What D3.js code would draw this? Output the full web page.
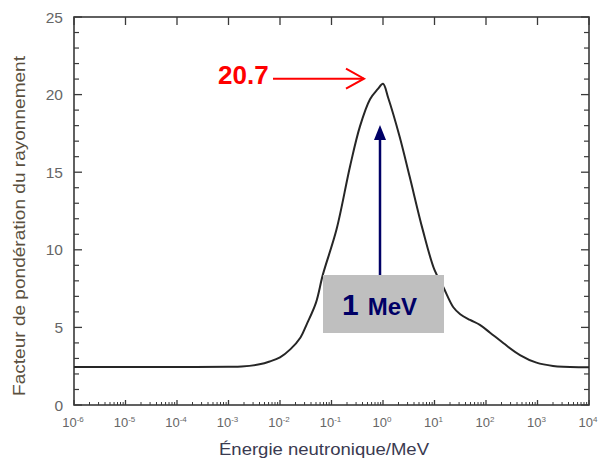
<!DOCTYPE html>
<html><head><meta charset="utf-8">
<script src="https://cdn.jsdelivr.net/npm/d3@7"></script>
<style>html,body{margin:0;padding:0;background:#fff;}</style>
</head><body>
<svg id="c" width="598" height="461"></svg>
<script>
// ---- data ----
const energies = [1e-6, 1e-5, 1e-4, 1e-3, 0.0018, 0.004, 0.0063, 0.01, 0.016, 0.025, 0.033, 0.05, 0.068, 0.125, 0.23, 0.357, 0.56, 0.79, 1, 1.26, 2.1, 3.3, 5.9, 10, 14.8, 23.2, 31.6, 49, 76, 120, 219, 457, 955, 2000, 6760, 10000];
const weights  = [2.45, 2.45, 2.45, 2.46, 2.48, 2.62, 2.8, 3.07, 3.6, 4.35, 5.2, 6.6, 8.4, 11.3, 15.4, 17.95, 19.7, 20.35, 20.7, 19.8, 17.3, 14.7, 11.3, 8.7, 7.6, 6.3, 5.85, 5.48, 5.16, 4.66, 3.98, 3.22, 2.73, 2.52, 2.43, 2.43];
const xTickExps = [-6, -5, -4, -3, -2, -1, 0, 1, 2, 3, 4];
const yTicks = [0, 5, 10, 15, 20, 25];
const peakValue = 20.7;
const peakEnergy = 1;
const peakLabel = "20.7";
const boxLabelNum = "1";
const boxLabelUnit = "MeV";
const xTitle = "Énergie neutronique/MeV";
const yTitle = "Facteur de pondération du rayonnement";

// ---- layout ----
const L = 74, R = 589, T = 17, B = 405;
const font = "'Liberation Sans', Arial, sans-serif";
const svg = d3.select("#c");
const x = d3.scaleLog().domain([1e-6, 1e4]).range([L, R]);
const y = d3.scaleLinear().domain([0, 25]).range([B, T]);
const frameColor = "#3a3a3a";

// minor ticks
const xMinor = [];
xTickExps.slice(0, -1).forEach(e => { for (let k = 2; k <= 9; k++) xMinor.push(k * Math.pow(10, e)); });
const yMinor = d3.range(0, 25.01, 1).filter(v => v % 5 !== 0);

const g = svg.append("g");
// bottom ticks (inward)
g.selectAll(".bmaj").data(xTickExps).join("line")
  .attr("x1", d => x(Math.pow(10, d))).attr("x2", d => x(Math.pow(10, d)))
  .attr("y1", B).attr("y2", B - 5).attr("stroke", frameColor).attr("stroke-width", 1.3);
g.selectAll(".bmin").data(xMinor).join("line")
  .attr("x1", d => x(d)).attr("x2", d => x(d))
  .attr("y1", B).attr("y2", B - 3).attr("stroke", frameColor).attr("stroke-width", 1);
// top ticks (major only)
g.selectAll(".tmaj").data(xTickExps).join("line")
  .attr("x1", d => x(Math.pow(10, d))).attr("x2", d => x(Math.pow(10, d)))
  .attr("y1", T).attr("y2", T + 8).attr("stroke", frameColor).attr("stroke-width", 1.3);
// left / right ticks
[[L, 1], [R, -1]].forEach(([px, dir]) => {
  g.selectAll(null).data(yTicks).join("line")
    .attr("x1", px).attr("x2", px + dir * 8)
    .attr("y1", d => y(d)).attr("y2", d => y(d)).attr("stroke", frameColor).attr("stroke-width", 1.3);
  g.selectAll(null).data(yMinor).join("line")
    .attr("x1", px).attr("x2", px + dir * 5)
    .attr("y1", d => y(d)).attr("y2", d => y(d)).attr("stroke", frameColor).attr("stroke-width", 1.2);
});
// frame
g.append("rect").attr("x", L).attr("y", T).attr("width", R - L).attr("height", B - T)
  .attr("fill", "none").attr("stroke", frameColor).attr("stroke-width", 1.6);

// y tick labels
g.selectAll(".yl").data(yTicks).join("text")
  .attr("x", L - 11).attr("y", d => y(d)).attr("dy", "0.36em")
  .attr("text-anchor", "end").attr("font-family", font).attr("font-size", 15.5)
  .attr("fill", "#666").text(d => d);

// x tick labels
const xl = g.selectAll(".xl").data(xTickExps).join("text")
  .attr("x", d => x(Math.pow(10, d)) - 1).attr("y", 427)
  .attr("text-anchor", "middle").attr("font-family", font).attr("font-size", 13).attr("fill", "#666");
xl.append("tspan").text("10");
xl.append("tspan").attr("dy", -5).attr("font-size", 8).text(d => d);

// axis titles
svg.append("text").attr("x", 324).attr("y", 455).attr("text-anchor", "middle")
  .attr("font-family", font).attr("font-size", 16).attr("fill", "#3a3a50")
  .attr("textLength", 210).attr("lengthAdjust", "spacingAndGlyphs").text(xTitle);
svg.append("text").attr("transform", "translate(25,226) rotate(-90)").attr("text-anchor", "middle")
  .attr("font-family", font).attr("font-size", 17).attr("fill", "#5a5040")
  .attr("textLength", 340).attr("lengthAdjust", "spacingAndGlyphs").text(yTitle);

// curve
const pts = energies.map((e, i) => [e, weights[i]]);
svg.append("path").datum(pts)
  .attr("d", d3.line().x(d => x(d[0])).y(d => y(d[1])).curve(d3.curveCatmullRom.alpha(0.5)))
  .attr("fill", "none").attr("stroke", "#262626").attr("stroke-width", 2);

// red annotation
const px = x(peakEnergy), py = y(peakValue);
const red = "#ff0000";
svg.append("text").attr("x", 218).attr("y", py).attr("font-family", font).attr("font-weight", "bold")
  .attr("font-size", 26).attr("fill", red).text(peakLabel);
const ay = py - 5, ax2 = px - 19;
svg.append("line").attr("x1", 273).attr("x2", ax2).attr("y1", ay).attr("y2", ay)
  .attr("stroke", red).attr("stroke-width", 2);
svg.append("path").attr("d", `M${ax2 - 18},${ay - 10} L${ax2},${ay} L${ax2 - 18},${ay + 10}`)
  .attr("fill", "none").attr("stroke", red).attr("stroke-width", 2);

// blue arrow + box
const navy = "#000066";
const bx = px - 3;
const boxTop = 275, boxBottom = 333;
svg.append("line").attr("x1", bx).attr("x2", bx).attr("y1", boxTop).attr("y2", 136)
  .attr("stroke", navy).attr("stroke-width", 2.5);
svg.append("path").attr("d", `M${bx},125 L${bx - 6},140 L${bx + 6},140 Z`).attr("fill", navy);
svg.append("rect").attr("x", 323).attr("y", boxTop).attr("width", 121).attr("height", boxBottom - boxTop)
  .attr("fill", "#bfbfbf");
const bt = svg.append("text").attr("x", 342).attr("y", 315).attr("font-family", font)
  .attr("font-weight", "bold").attr("fill", navy);
bt.append("tspan").attr("font-size", 30).text(boxLabelNum);
bt.append("tspan").attr("dx", 9).attr("font-size", 24).text(boxLabelUnit);
</script>
</body></html>
